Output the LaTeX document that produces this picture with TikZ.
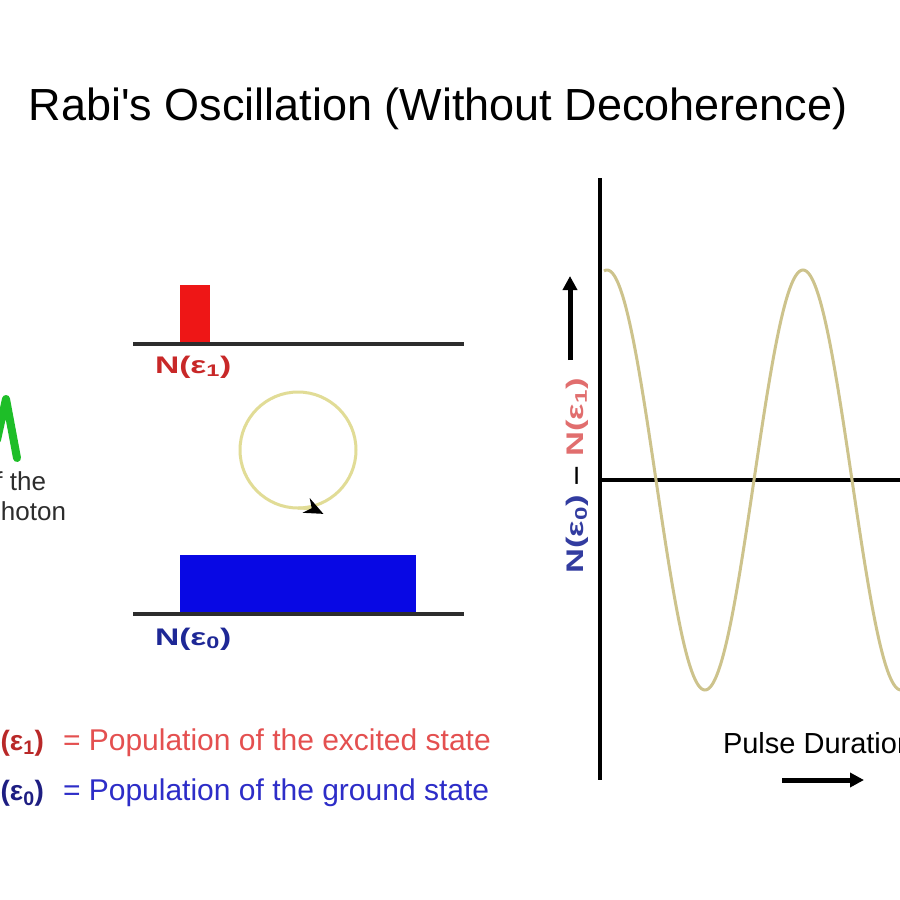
\documentclass[tikz,border=0pt]{standalone}
\usepackage{fontspec}
\setmainfont{Liberation Sans}
\usetikzlibrary{arrows.meta}
\definecolor{barred}{RGB}{238,22,22}
\definecolor{barblue}{RGB}{8,8,228}
\definecolor{axisgray}{RGB}{45,45,45}
\definecolor{labred}{RGB}{200,40,40}
\definecolor{labblue}{RGB}{30,40,150}
\definecolor{ylabred}{RGB}{225,110,110}
\definecolor{ylabblue}{RGB}{50,60,160}
\definecolor{legred}{RGB}{228,80,80}
\definecolor{legdred}{RGB}{185,40,40}
\definecolor{legblue}{RGB}{45,45,200}
\definecolor{legdblue}{RGB}{30,30,130}
\definecolor{curvecol}{RGB}{205,195,140}
\definecolor{circcol}{RGB}{225,220,150}
\definecolor{photongreen}{RGB}{30,190,40}
\definecolor{textgray}{RGB}{45,45,45}
\tikzset{
  txt/.style={inner sep=0pt, outer sep=0pt},
  levelline/.style={line width=3.5pt, axisgray},
  axisline/.style={line width=4pt, black},
  boldlab/.style={txt, font=\bfseries\fontsize{24}{28}\selectfont},
  legtext/.style={txt, font=\fontsize{30}{34}\selectfont},
}
\newcommand\widen[1]{\scalebox{1.4}[1]{#1}}
\begin{document}
\begin{tikzpicture}[x=1pt,y=-1pt]
\useasboundingbox[fill=white] (0,0) rectangle (900,900);

% title
\node[txt, anchor=base, font=\fontsize{45}{52}\selectfont] (title) at (438,120) {Rabi\textquotesingle s Oscillation (Without Decoherence)};

% photon fragment
\draw[photongreen, line width=8pt, line join=round, line cap=round] (-3,440) -- (6,399) -- (17,458);
\node[txt, anchor=base east, text=textgray, font=\fontsize{26}{30}\selectfont] (ofthe) at (46,490) {of the};
\node[txt, anchor=base east, text=textgray, font=\fontsize{26}{30}\selectfont] (photon) at (66,520) {photon};

% excited level
\fill[barred] (180,285) rectangle (210,344);
\coordinate (e1l) at (133,344);
\coordinate (e1r) at (464,344);
\draw[levelline] (e1l) -- (e1r);
\node[boldlab, anchor=base west, text=labred] (n1) at (155,373) {\widen{N(ε\textsubscript{1})}};

% cycle circle
\coordinate (cc) at (298,450);
\draw[circcol, line width=3pt] (cc) circle[radius=58];
\coordinate (cbot) at (298,508);
\draw[circcol, line width=3pt, -{Stealth[black,length=19pt,width=16pt,inset=6pt]}] (cbot) arc[start angle=-90, end angle=-64, radius=58];

% ground level
\fill[barblue] (180,555) rectangle (416,614);
\coordinate (e0l) at (133,614);
\coordinate (e0r) at (464,614);
\draw[levelline] (e0l) -- (e0r);
\node[boldlab, anchor=base west, text=labblue] (n0) at (155,645) {\widen{N(ε\textsubscript{0})}};

% legend
\node[txt, anchor=base east, text=legdred, font=\bfseries\fontsize{28}{32}\selectfont] (leg1a) at (44,750) {N(ε\textsubscript{1})};
\node[legtext, anchor=base west, text=legred] (leg1b) at (63,750) {= Population of the excited state};
\node[txt, anchor=base east, text=legdblue, font=\bfseries\fontsize{28}{32}\selectfont] (leg0a) at (44,800) {N(ε\textsubscript{0})};
\node[legtext, anchor=base west, text=legblue] (leg0b) at (63,800) {= Population of the ground state};

% axes
\coordinate (ytop) at (600,178);
\coordinate (ybot) at (600,780);
\coordinate (xl) at (600,480);
\coordinate (xr) at (905,480);
\draw[axisline] (ytop) -- (ybot);
\draw[axisline] (xl) -- (xr);

% curve
\draw[curvecol, line width=3pt] plot[domain=604:905, samples=240, smooth] (\x, {480 - 210*cos(1.83673*(\x-607))});

% y label
\node[txt, rotate=90, font=\bfseries\fontsize{24}{28}\selectfont] (ylab) at (577,476)
  {\scalebox{1.44}[1]{\textcolor{ylabblue}{N(ε\textsubscript{0})} \textcolor{black}{–} \textcolor{ylabred}{N(ε\textsubscript{1})}}};
\coordinate (ya1) at (570,360);
\coordinate (ya2) at (570,276);
\draw[line width=5pt, -{Triangle[length=14pt,width=14pt]}] (ya1) -- (ya2);

% x label
\node[txt, anchor=base west, font=\fontsize{29}{34}\selectfont] (xlab) at (723,753) {Pulse Duration};
\coordinate (xa1) at (782,780);
\coordinate (xa2) at (864,780);
\draw[line width=5pt, -{Triangle[length=14pt,width=14pt]}] (xa1) -- (xa2);
\end{tikzpicture}
\end{document}
